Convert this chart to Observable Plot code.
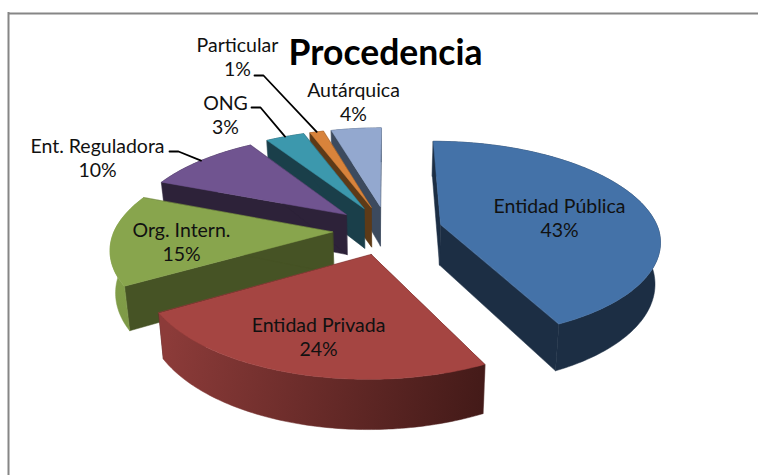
<!DOCTYPE html>
<html><head><meta charset="utf-8">
<script src="https://cdn.jsdelivr.net/npm/d3@7"></script>
<script src="https://cdn.jsdelivr.net/npm/@observablehq/plot@0.6"></script>
<style>html,body{margin:0;padding:0;background:#fff}svg{display:block}</style>
</head><body><div id="chart"></div>
<script>
const categories = ["Entidad Pública","Entidad Privada","Org. Intern.","Ent. Reguladora","ONG","Particular","Autárquica"];
// shares; the labels show them rounded
const values = [42.7,23.8,14.5,10,3.4,1.2,4.4];
const percentLabels = ["43%","24%","15%","10%","3%","1%","4%"];
const topColors = ["#4472a8","#a54542","#88a54d","#705490","#3c98ad","#d8833b","#93a8cf"];
const wallColors = ["#1c2e44","#431a18","#465325","#2d2239","#1a3f4a","#5d3a17","#3c4a5e"];
const arcStart = ["#1c2e44","#431a18","#7d9946","#2d2239","#1a3f4a","#5d3a17","#3c4a5e"];
const arcEnd = ["#1c2e44","#8c3b39","#86a34b","#2d2239","#1a3f4a","#5d3a17","#3c4a5e"];
const title = "Procedencia";

// projection of the tilted, exploded pie
const cx=387, cy=229.5, R=218, EX=55, TILT=.45, PFAR=.000735, PNEAR=.00068, DEPTH=41, BOTX=.98;
const total=d3.sum(values);
const proj=(X,Y,down)=>{const s=1/(1+(Y>0?PFAR:PNEAR)*Y);return down
  ?{x:cx+X*s*BOTX,y:cy-Y*TILT*s+DEPTH*s}
  :{x:cx+X*s,y:cy-Y*TILT*s};};
let acc=0;
const slices=values.map((v,i)=>{const a0=acc/total*2*Math.PI;acc+=v;const a1=acc/total*2*Math.PI;
  const m=(a0+a1)/2;return {i,a0,a1,m,ox:EX*Math.sin(m),oy:EX*Math.cos(m)};});
const rim=(s,a,down)=>proj(s.ox+R*Math.sin(a),s.oy+R*Math.cos(a),down);
const tip=(s,down)=>proj(s.ox,s.oy,down);

const polys=[];let pid=0;
const add=(pts,color)=>{const id=pid++;pts.forEach(p=>polys.push({...p,id,color}));};
const order=[6,5,4,3,2,0,1];
const gradients=[];
for(const k of order){const s=slices[k];
  const n=Math.max(8,Math.round((s.a1-s.a0)*60));
  const arc=d3.range(n+1).map(j=>s.a0+(s.a1-s.a0)*j/n);
  add([tip(s,false),rim(s,s.a0,false),rim(s,s.a0,true),tip(s,true)],wallColors[k]);
  add([tip(s,false),rim(s,s.a1,false),rim(s,s.a1,true),tip(s,true)],wallColors[k]);
  const gx0=rim(s,s.a0,true), gx1=rim(s,s.a1,true);
  gradients.push({id:"arc"+k,x1:gx0.x,y1:gx0.y,x2:gx1.x,y2:gx1.y,c1:arcStart[k],c2:arcEnd[k]});
  add([...arc.map(a=>rim(s,a,false)),...arc.slice().reverse().map(a=>rim(s,a,true))],"url(#arc"+k+")");
  add([tip(s,false),...arc.map(a=>rim(s,a,false))],topColors[k]);
}

// label placement (layout only)
const labelPos=[[559,206],[318,325],[181,230],[97,146],[225,103],[237,45],[353,90]];
const labels=categories.map((c,i)=>({x:labelPos[i][0],y:labelPos[i][1],text:c}));
const pcts=percentLabels.map((t,i)=>({x:labelPos[i][0],y:labelPos[i][1]+24,text:t}));
const leaderStart={3:[169,151],4:[251,107],5:[254,75]};
const leaderElbow=9;
const leaders=Object.keys(leaderStart).flatMap(k=>{const s=slices[+k],e=rim(s,s.m,false),[x,y]=leaderStart[k];
  return [{x,y,k},{x:x+leaderElbow,y,k},{x:e.x,y:e.y,k}];});

const defs=()=>{const ns="http://www.w3.org/2000/svg";const d=document.createElementNS(ns,"defs");
  for(const g of gradients){const lg=document.createElementNS(ns,"linearGradient");
    lg.setAttribute("id",g.id);lg.setAttribute("gradientUnits","userSpaceOnUse");
    for(const a of ["x1","y1","x2","y2"])lg.setAttribute(a,g[a]);
    [[0,g.c1],[1,g.c2]].forEach(([o,c])=>{const st=document.createElementNS(ns,"stop");
      st.setAttribute("offset",o);st.setAttribute("stop-color",c);lg.append(st);});
    d.append(lg);}
  return d;};

const W=758,H=475;
const plot=Plot.plot({width:W,height:H,margin:0,
  x:{domain:[0,W],range:[0,W],axis:null},y:{domain:[H,0],range:[H,0],axis:null},
  color:{type:"identity"},
  marks:[
    defs,
    Plot.ruleX([8],{stroke:"#868686",strokeWidth:2,y1:12,y2:H}),
    Plot.ruleY([13],{stroke:"#868686",strokeWidth:2,x1:8,x2:W}),
    Plot.line(polys,{x:"x",y:"y",z:"id",fill:"color",stroke:"color",strokeWidth:.5,curve:"linear-closed"}),
    Plot.line(leaders,{x:"x",y:"y",z:"k",stroke:"#000",strokeWidth:1.8,curve:"linear"}),
    Plot.text(labels,{x:"x",y:"y",text:"text",fontFamily:"Lato",fontSize:19.5,fill:"#111"}),
    Plot.text(pcts,{x:"x",y:"y",text:"text",fontFamily:"Lato",fontSize:19.5,fill:"#111"}),
    Plot.text([title],{x:()=>385,y:()=>53,text:d=>d,fontFamily:"Lato",fontWeight:"bold",fontSize:35.5,fill:"#000"})
  ]});
document.getElementById("chart").append(plot);
</script></body></html>
